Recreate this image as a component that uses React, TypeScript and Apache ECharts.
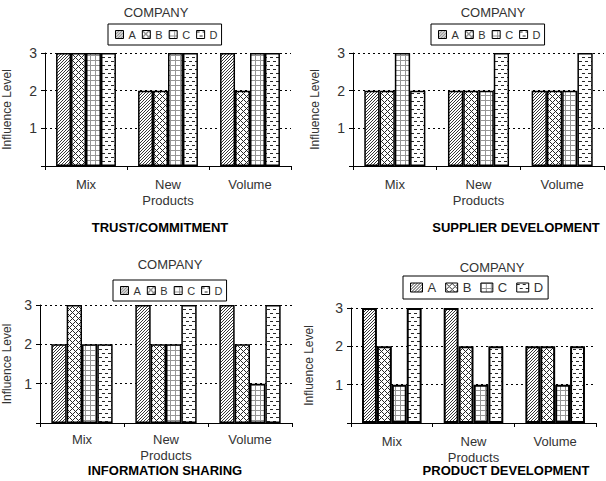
import React, { useEffect, useRef } from "react";
import * as echarts from "echarts";

// Categories and company series for each panel
const categories = ["Mix", "New\nProducts", "Volume"];
const companies = ["A", "B", "C", "D"];
const yTicks = [0, 1, 2, 3];

const trustA = [3, 2, 3];
const trustB = [3, 2, 2];
const trustC = [3, 3, 3];
const trustD = [3, 3, 3];

const supplierA = [2, 2, 2];
const supplierB = [2, 2, 2];
const supplierC = [3, 2, 2];
const supplierD = [2, 3, 3];

const infoA = [2, 3, 3];
const infoB = [3, 2, 2];
const infoC = [2, 2, 1];
const infoD = [2, 3, 3];

const productA = [3, 3, 2];
const productB = [2, 2, 2];
const productC = [1, 1, 1];
const productD = [3, 2, 2];

const panelTitles = [
  "TRUST/COMMITMENT",
  "SUPPLIER DEVELOPMENT",
  "INFORMATION SHARING",
  "PRODUCT DEVELOPMENT",
];
const panelData = [
  [trustA, trustB, trustC, trustD],
  [supplierA, supplierB, supplierC, supplierD],
  [infoA, infoB, infoC, infoD],
  [productA, productB, productC, productD],
];

const FONT = "Liberation Sans, Arial, sans-serif";

// Pixel-level monochrome fill patterns (hatch, crosshatch, grid, dashes)
function makePattern(
  w: number,
  h: number,
  color: [number, number, number],
  on: (x: number, y: number) => boolean
) {
  const c = document.createElement("canvas");
  c.width = w;
  c.height = h;
  const ctx = c.getContext("2d")!;
  const img = ctx.createImageData(w, h);
  for (let y = 0; y < h; y++) {
    for (let x = 0; x < w; x++) {
      const i = (y * w + x) * 4;
      const dark = on(x, y);
      img.data[i] = dark ? color[0] : 255;
      img.data[i + 1] = dark ? color[1] : 255;
      img.data[i + 2] = dark ? color[2] : 255;
      img.data[i + 3] = 255;
    }
  }
  ctx.putImageData(img, 0, 0);
  return {
    image: c.toDataURL(),
    repeat: "repeat",
    imageWidth: w,
    imageHeight: h,
  } as any;
}

const mod = (a: number, n: number) => ((a % n) + n) % n;

export default function App() {
  const ref = useRef<HTMLDivElement>(null);

  useEffect(() => {
    if (!ref.current) return;
    const chart = echarts.init(ref.current, null, { renderer: "svg" });

    const fills = [
      makePattern(6, 6, [55, 55, 55], (x, y) => mod(x + y, 3) === 0),
      makePattern(6, 6, [40, 40, 40], (x, y) => mod(x + y, 6) === 0 || mod(x - y, 6) === 0),
      makePattern(5, 5, [150, 150, 150], (x, y) => x === 0 || y === 0),
      makePattern(6, 8, [40, 40, 40], (x, y) => (y === 1 && x < 3) || (y === 5 && x >= 3)),
    ];

    // Panel layout: plot rectangles and text positions
    const panels = [
      { left: 42, top: 53, width: 249, height: 113, company: [156, 6], legend: [108, 24], yName: 32, title: [160, 221], big: false },
      { left: 353, top: 53, width: 251, height: 113, company: [493, 6], legend: [431, 24], yName: 32, title: [516, 221], big: false },
      { left: 33, top: 305, width: 259, height: 118, company: [170, 258], legend: [113, 280], yName: 27, title: [165, 464], big: false },
      { left: 351, top: 308, width: 245, height: 115, company: [492, 261], legend: [403, 276], yName: 36, title: [506, 464], big: true },
    ];

    const grid: any[] = [];
    const xAxis: any[] = [];
    const yAxis: any[] = [];
    const series: any[] = [];
    const legend: any[] = [];
    const title: any[] = [];

    panels.forEach((p, pi) => {
      grid.push({ left: p.left, top: p.top, width: p.width, height: p.height });
      xAxis.push({
        type: "category",
        gridIndex: pi,
        data: categories,
        axisLine: { lineStyle: { color: "#000", width: 1 } },
        axisTick: { show: true, length: 4, lineStyle: { color: "#000" } },
        axisLabel: {
          color: "#333",
          fontSize: 13,
          lineHeight: 16,
          margin: pi === 2 ? 8 : 10,
          fontFamily: FONT,
        },
        splitLine: { show: false },
      });
      yAxis.push({
        type: "value",
        gridIndex: pi,
        min: 0,
        max: 3,
        interval: 1,
        name: "Influence Level",
        nameLocation: "middle",
        nameGap: p.yName,
        nameTextStyle: { color: "#333", fontSize: 12, fontFamily: FONT },
        axisLine: { show: true, lineStyle: { color: "#000", width: 1 } },
        axisTick: { show: true, length: 4, lineStyle: { color: "#000" } },
        axisLabel: {
          color: "#333",
          fontSize: 14,
          margin: 8,
          fontFamily: FONT,
          formatter: (v: number) => (v === 0 || yTicks.indexOf(v) < 0 ? "" : String(v)),
        },
        splitLine: {
          show: true,
          lineStyle: { color: "#000", type: [2, 3], width: 1 },
        },
      });
      panelData[pi].forEach((vals, si) => {
        series.push({
          type: "bar",
          name: companies[si],
          xAxisIndex: pi,
          yAxisIndex: pi,
          data: vals,
          barGap: "0%",
          barCategoryGap: "27%",
          itemStyle: {
            color: fills[si],
            borderColor: "#000",
            borderWidth: p.big ? 2 : 1.5,
          },
        });
      });
      legend.push({
        data: companies,
        left: p.legend[0],
        top: p.legend[1],
        orient: "horizontal",
        borderColor: "#000",
        borderWidth: 1,
        padding: p.big ? [5, 5, 5, 7] : [5, 4, 5, 7],
        itemGap: p.big ? 9 : 6,
        itemWidth: p.big ? 12 : 8,
        itemHeight: p.big ? 9 : 8,
        icon: "rect",
        selectedMode: false,
        itemStyle: { borderColor: "#000", borderWidth: 1 },
        textStyle: {
          color: "#333",
          fontSize: p.big ? 13 : 11,
          fontFamily: FONT,
        },
      });
      title.push({
        text: "COMPANY",
        left: p.company[0],
        top: p.company[1],
        padding: 0,
        textAlign: "center",
        textStyle: {
          color: "#333",
          fontSize: 13,
          fontWeight: "normal",
          fontFamily: FONT,
        },
      });
      title.push({
        text: panelTitles[pi],
        left: p.title[0],
        top: p.title[1],
        padding: 0,
        textAlign: "center",
        textStyle: {
          color: "#000",
          fontSize: 13,
          fontWeight: "bold",
          fontFamily: FONT,
        },
      });
    });

    chart.setOption({
      animation: false,
      backgroundColor: "#fff",
      title,
      legend,
      grid,
      xAxis,
      yAxis,
      series,
    });

    return () => chart.dispose();
  }, []);

  return (
    <div
      ref={ref}
      style={{ position: "fixed", left: 0, top: 0, width: 606, height: 481 }}
    />
  );
}
